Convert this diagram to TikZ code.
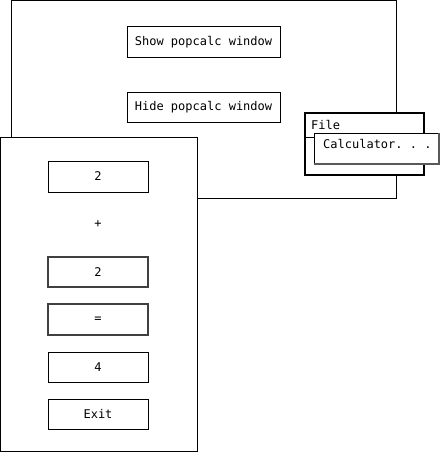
\documentclass[tikz,border=0pt]{standalone}
\usepackage{fontspec}
\setmonofont{DejaVu Sans Mono}
\begin{document}
\begin{tikzpicture}[x=1pt,y=-1pt,
  win/.style={draw=black,fill=white,line width=1pt},
  btn/.style={draw=black,fill=white,line width=1pt,inner sep=0pt},
  pressed/.style={btn,draw=black!75,line width=1.2pt},
  lbl/.style={font=\ttfamily\fontsize{12}{14}\selectfont,inner sep=0pt},
  menubox/.style={draw=black,fill=white,line width=1.8pt}]
\useasboundingbox (0,0) rectangle (440,452);
% main window
\draw[win] (11,0.5) rectangle (396,198);
\node[btn,minimum width=153pt,minimum height=31pt] (show) at (203.5,42.5) {};
\node[lbl] at (show.center) {Show popcalc window};
\node[btn,minimum width=153pt,minimum height=30pt] (hide) at (203.5,107) {};
\node[lbl] at (hide.center) {Hide popcalc window};
% file menu
\draw[menubox] (305,113) rectangle (424,175);
\node[lbl,anchor=west] (file) at (311,125) {File};
\coordinate (sepl) at (305,137);
\coordinate (sepr) at (314,137);
\draw[line width=1pt] (sepl) -- (sepr);
\draw[draw=black,fill=white,line width=1pt] (314,133) rectangle (439,164);
\draw[gray!70!black,line width=1.5pt] (439,133) -- (439,164) -- (314,164);
\node[lbl,anchor=west] (calcitem) at (323,144) {Calculator. . .};
% calculator window
\draw[win] (0.5,137) rectangle (197,451.5);
\node[btn,minimum width=100pt,minimum height=31pt] (a) at (98,176.5) {};
\node[lbl] at (a.center) {2};
\node[lbl] (plus) at (98,224) {+};
\node[pressed,minimum width=100pt,minimum height=30pt] (b) at (98,272) {};
\node[lbl] at (b.center) {2};
\node[pressed,minimum width=100pt,minimum height=31pt] (eq) at (98,319.5) {};
\node[lbl] at (eq.center) {=};
\node[btn,minimum width=100pt,minimum height=30pt] (res) at (98,367) {};
\node[lbl] at (res.center) {4};
\node[btn,minimum width=100pt,minimum height=30pt] (exit) at (98,414) {};
\node[lbl] at (exit.center) {Exit};
\end{tikzpicture}
\end{document}
